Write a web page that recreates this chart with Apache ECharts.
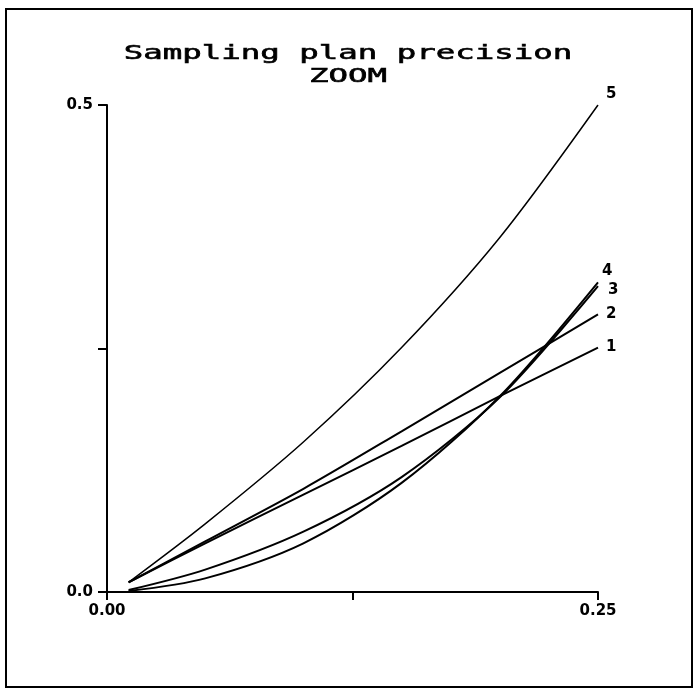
<!DOCTYPE html>
<html>
<head>
<meta charset="utf-8">
<script src="https://cdn.jsdelivr.net/npm/echarts@6/dist/echarts.min.js"></script>
<style>html,body{margin:0;padding:0;background:#fff}#c{width:694px;height:690px}</style>
</head>
<body>
<div id="c"></div>
<script>
const titleLines = ['Sampling plan precision', 'ZOOM'];
const xValues = [0.011, 0.05, 0.10, 0.15, 0.20, 0.25];
const seriesNames = ['1', '2', '3', '4', '5'];
const series1 = [0.010, 0.050, 0.100, 0.150, 0.201, 0.251];
const series2 = [0.010, 0.052, 0.106, 0.165, 0.225, 0.285];
const series3 = [0.002, 0.023, 0.062, 0.118, 0.200, 0.314];
const series4 = [0.001, 0.014, 0.050, 0.112, 0.201, 0.318];
const series5 = [0.010, 0.070, 0.154, 0.251, 0.364, 0.500];
const xTickLabels = { '0': '0.00', '0.25': '0.25' };
const yTickLabels = { '0': '0.0', '0.5': '0.5' };

const allSeries = [series1, series2, series3, series4, series5];
const labelOffsets = [[0, 0], [0, 0], [2, 4], [-4, -11], [0, -11]];
const lineWidths = [2, 2, 2, 2, 1.5];

const chart = echarts.init(document.getElementById('c'));
chart.setOption({
  animation: false,
  backgroundColor: '#fff',
  graphic: [
    { type: 'rect', shape: { x: 6, y: 9, width: 686, height: 678 },
      style: { fill: 'none', stroke: '#000', lineWidth: 2 } },
    { type: 'text', x: 348, y: 42, scaleX: 1.62, scaleY: 1,
      style: { text: titleLines.join('\n'), fill: '#000', stroke: '#000', lineWidth: 0.6,
        align: 'center', verticalAlign: 'top',
        font: '20px "DejaVu Sans Mono"', lineHeight: 23 } }
  ],
  grid: { left: 107, right: 96, top: 105, bottom: 98 },
  xAxis: {
    type: 'value', min: 0, max: 0.25, interval: 0.125,
    splitLine: { show: false },
    axisLine: { lineStyle: { color: '#000', width: 2 } },
    axisTick: { length: 8, lineStyle: { color: '#000', width: 2 } },
    axisLabel: { color: '#000', fontWeight: 'bold', fontSize: 15, fontFamily: 'DejaVu Sans', margin: 12,
      formatter: v => xTickLabels[String(v)] || '' }
  },
  yAxis: {
    type: 'value', min: 0, max: 0.5, interval: 0.25,
    splitLine: { show: false },
    axisLine: { lineStyle: { color: '#000', width: 2 } },
    axisTick: { length: 9, lineStyle: { color: '#000', width: 2 } },
    axisLabel: { color: '#000', fontWeight: 'bold', fontSize: 15, fontFamily: 'DejaVu Sans', margin: 14,
      formatter: v => yTickLabels[String(v)] || '' }
  },
  series: allSeries.map((s, i) => ({
    name: seriesNames[i],
    type: 'line',
    data: xValues.map((x, j) => [x, s[j]]),
    smooth: 0.3,
    symbol: 'none',
    lineStyle: { color: '#000', width: lineWidths[i] },
    endLabel: { show: true, formatter: '{a}', color: '#000', fontWeight: 'bold', fontSize: 15,
      fontFamily: 'DejaVu Sans', offset: labelOffsets[i] }
  }))
});
</script>
</body>
</html>
